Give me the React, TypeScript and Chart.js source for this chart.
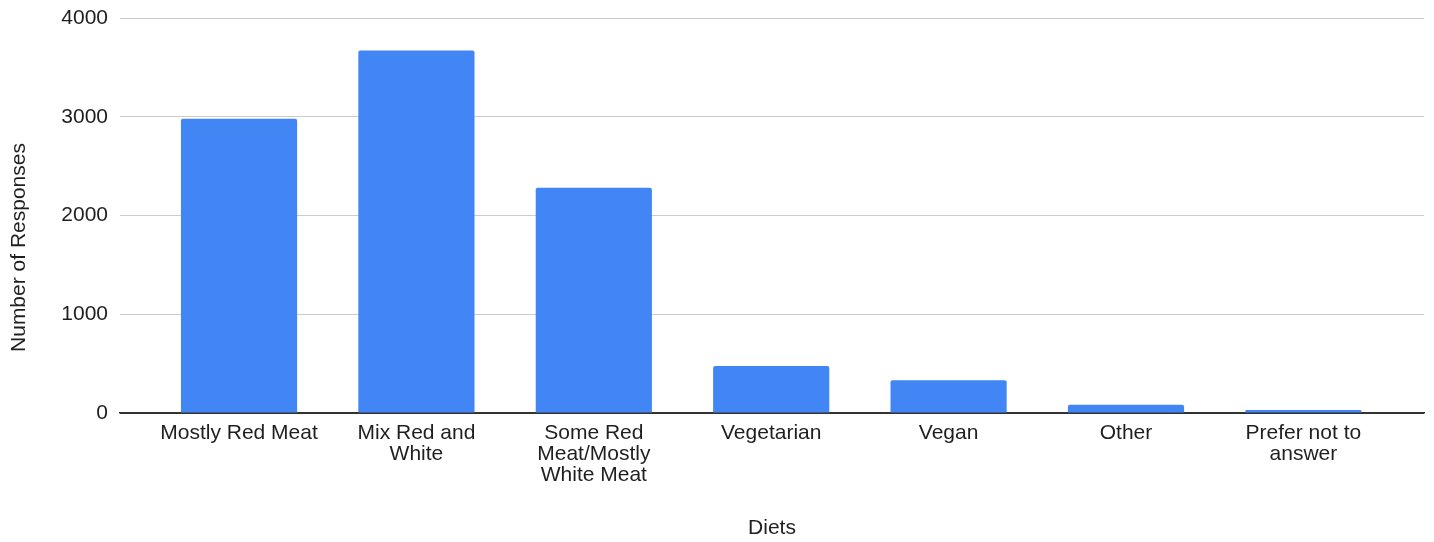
import React, { useEffect, useRef } from "react";
import { Chart, registerables } from "chart.js";

Chart.register(...registerables);

// Diet categories (each entry holds the wrapped lines of its axis label)
const dietLabels: string[][] = [
  ["Mostly Red Meat"],
  ["Mix Red and", "White"],
  ["Some Red", "Meat/Mostly", "White Meat"],
  ["Vegetarian"],
  ["Vegan"],
  ["Other"],
  ["Prefer not to", "answer"],
];

// Number of responses per diet
const responseCounts: number[] = [2980, 3670, 2280, 476, 332, 84, 30];

// Value-axis ticks
const yTickValues: number[] = [0, 1000, 2000, 3000, 4000];

const xAxisTitle = "Diets";
const yAxisTitle = "Number of Responses";

const FONT_FAMILY = "'Liberation Sans', Arial, Helvetica, sans-serif";
const FONT_SIZE = 21;
const TEXT_COLOR = "#1f1f1f";
const BAR_COLOR = "#4285F4";

// Rotated value-axis title, centred a little below the plot's mid-height
const yTitlePlugin = {
  id: "yTitle",
  afterDraw(chart: Chart) {
    const { ctx, chartArea } = chart;
    ctx.save();
    ctx.translate(19, (chartArea.top + chartArea.bottom) / 2 + 32);
    ctx.rotate(-Math.PI / 2);
    ctx.textAlign = "center";
    ctx.textBaseline = "middle";
    ctx.fillStyle = TEXT_COLOR;
    ctx.font = `${FONT_SIZE}px ${FONT_FAMILY}`;
    ctx.fillText(yAxisTitle, 0, 0);
    ctx.restore();
  },
};

export default function App() {
  const canvasRef = useRef<HTMLCanvasElement | null>(null);

  useEffect(() => {
    document.body.style.margin = "0";
    const canvas = canvasRef.current;
    if (!canvas) return;

    const chart = new Chart(canvas, {
      type: "bar",
      data: {
        datasets: [
          {
            data: responseCounts.map((v, i) => ({ x: i, y: v })),
            backgroundColor: BAR_COLOR,
            borderRadius: 2,
            borderSkipped: "bottom",
            categoryPercentage: 1,
            barPercentage: 0.655,
          },
        ],
      },
      options: {
        animation: false,
        responsive: false,
        maintainAspectRatio: false,
        layout: { padding: { top: 18, right: 10, left: 0, bottom: 0 } },
        plugins: {
          legend: { display: false },
          tooltip: { enabled: false },
        },
        scales: {
          x: {
            type: "linear",
            min: -0.671,
            max: 6.68,
            offset: false,
            z: 1,
            afterFit(scale: any) {
              scale.height = 129;
            },
            grid: { display: false, drawTicks: false },
            border: { display: true, color: "#333333", width: 1.5 },
            ticks: {
              stepSize: 1,
              includeBounds: false,
              autoSkip: false,
              maxRotation: 0,
              padding: 10,
              color: TEXT_COLOR,
              font: { family: FONT_FAMILY, size: FONT_SIZE, lineHeight: "21px" },
              callback: (value: any) =>
                Number.isInteger(value) && dietLabels[value] ? dietLabels[value] : "",
            },
            title: {
              display: true,
              text: xAxisTitle,
              color: TEXT_COLOR,
              font: { family: FONT_FAMILY, size: FONT_SIZE },
              padding: { top: 0, bottom: 1 },
            },
          },
          y: {
            min: yTickValues[0],
            max: yTickValues[yTickValues.length - 1],
            afterFit(scale: any) {
              scale.width = 120;
              scale.paddingTop = 0;
              scale.paddingBottom = 0;
            },
            afterBuildTicks(scale: any) {
              scale.ticks = yTickValues.map((v) => ({ value: v }));
            },
            grid: {
              drawTicks: false,
              color: (ctx: any) => (ctx.tick && ctx.tick.value === 0 ? "#333333" : "#cccccc"),
              lineWidth: 1,
            },
            border: { display: false },
            ticks: {
              padding: 12,
              color: TEXT_COLOR,
              font: { family: FONT_FAMILY, size: FONT_SIZE },
              callback: (value: any) => String(value),
            },
          },
        },
      },
      plugins: [yTitlePlugin],
    });

    return () => chart.destroy();
  }, []);

  return (
    <div style={{ width: 1434, height: 542, position: "relative" }}>
      <canvas ref={canvasRef} width={1434} height={542} style={{ display: "block" }} />
    </div>
  );
}
